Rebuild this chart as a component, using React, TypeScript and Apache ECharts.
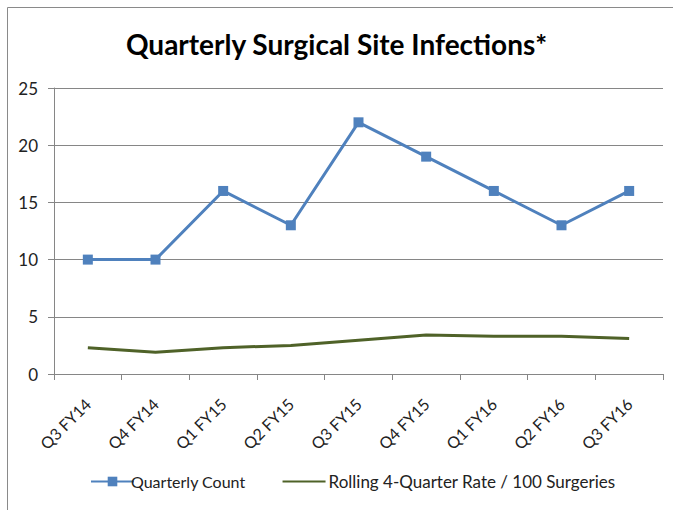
import React, { useEffect, useRef } from "react";
import * as echarts from "echarts";

const categories = ["Q3 FY14", "Q4 FY14", "Q1 FY15", "Q2 FY15", "Q3 FY15", "Q4 FY15", "Q1 FY16", "Q2 FY16", "Q3 FY16"];
const quarterlyCount = [10, 10, 16, 13, 22, 19, 16, 13, 16];
const rollingRate = [2.3, 1.9, 2.3, 2.5, 2.95, 3.4, 3.3, 3.3, 3.1];
const seriesNames = ["Quarterly Count", "Rolling 4-Quarter Rate / 100 Surgeries"];
const titleText = "Quarterly Surgical Site Infections*";

const FONT = "Lato, 'Noto Sans', sans-serif";

export default function App() {
  const ref = useRef<HTMLDivElement>(null);
  useEffect(() => {
    if (!ref.current) return;
    const chart = echarts.init(ref.current, undefined, { renderer: "svg" });
    chart.setOption({
      animation: false,
      backgroundColor: "#ffffff",
      textStyle: { fontFamily: FONT },
      title: {
        text: titleText,
        left: "center",
        top: 25,
        textStyle: { fontFamily: FONT, fontSize: 28, fontWeight: "bold", color: "#000" },
      },
      graphic: [
        {
          type: "rect",
          shape: { x: 7.5, y: 7.5, width: 700, height: 600 },
          style: { fill: "none", stroke: "#8a8a8a", lineWidth: 1 },
          silent: true,
        },
      ],
      grid: { left: 54, right: 10, top: 88, bottom: 136, containLabel: false },
      legend: {
        bottom: 15,
        left: 85,
        itemGap: 36,
        itemWidth: 43,
        itemHeight: 12,
        textStyle: { fontFamily: FONT, fontSize: 16, color: "#222", padding: [0, 0, 0, -8] },
        data: [
          { name: seriesNames[0] },
          {
            name: seriesNames[1],
            itemStyle: { opacity: 0 },
            textStyle: { fontFamily: FONT, fontSize: 17, color: "#222", padding: [0, 0, 0, -2] },
          },
        ],
      },
      xAxis: {
        type: "category",
        data: categories,
        boundaryGap: true,
        axisLine: { lineStyle: { color: "#868686", width: 1 } },
        axisTick: { show: true, length: 6, lineStyle: { color: "#868686" } },
        axisLabel: { rotate: 45, fontSize: 16, color: "#222", margin: 27, fontFamily: FONT },
      },
      yAxis: {
        type: "value",
        min: 0,
        max: 25,
        interval: 5,
        axisLine: { show: true, lineStyle: { color: "#868686", width: 1 } },
        axisTick: { show: true, length: 6, lineStyle: { color: "#868686" } },
        axisLabel: { fontSize: 17, color: "#222", margin: 16, fontFamily: FONT },
        splitLine: { lineStyle: { color: "#868686", width: 1 } },
      },
      series: [
        {
          name: seriesNames[0],
          type: "line",
          data: quarterlyCount,
          symbol: "rect",
          symbolSize: 10,
          lineStyle: { color: "#4F81BD", width: 3 },
          itemStyle: { color: "#4F81BD" },
        },
        {
          name: seriesNames[1],
          type: "line",
          data: rollingRate,
          symbol: "none",
          showSymbol: false,
          lineStyle: { color: "#4F6228", width: 3 },
          itemStyle: { color: "#4F6228" },
        },
      ],
    });
    return () => chart.dispose();
  }, []);
  return (
    <div
      ref={ref}
      style={{ position: "fixed", left: 0, top: 0, width: 673, height: 510 }}
    />
  );
}
